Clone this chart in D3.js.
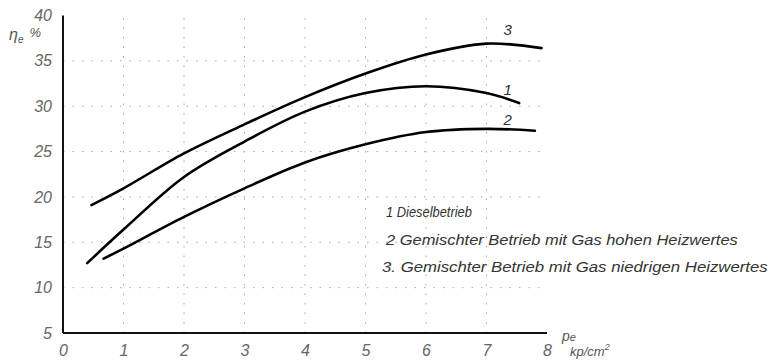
<!DOCTYPE html>
<html><head><meta charset="utf-8">
<script src="https://cdn.jsdelivr.net/npm/d3@7/dist/d3.min.js"></script>
<style>body{margin:0;background:#fff}svg{display:block}</style>
</head><body>
<script>
const xTicks = [0,1,2,3,4,5,6,7,8];
const yTicks = [5,10,15,20,25,30,35,40];
const gridX = [1,2,3,4,5,6,7];
const gridY = [10,15,20,25,30,35];
const pe1 = [0.40,1,2,3,4,5,6,7,7.54];
const eta1 = [12.7,16.4,22.2,26.1,29.4,31.45,32.2,31.45,30.35];
const pe2 = [0.67,1,2,3,4,5,6,7,7.8];
const eta2 = [13.2,14.3,17.8,20.95,23.8,25.8,27.15,27.5,27.3];
const pe3 = [0.47,1,2,3,4,5,6,7,7.91];
const eta3 = [19.1,20.95,24.8,28.0,31.0,33.6,35.7,36.9,36.4];
const curveLabels = ["1","2","3"];
const legendLines = ["1 Dieselbetrieb","2 Gemischter Betrieb mit Gas hohen  Heizwertes","3. Gemischter Betrieb mit Gas niedrigen  Heizwertes"];

const W=771,H=364;
const svg=d3.select("body").append("svg").attr("width",W).attr("height",H);
const x=d3.scaleLinear().domain([0,8]).range([63,547]);
const y=d3.scaleLinear().domain([5,40]).range([333,15.5]);
const font="'Liberation Sans', Arial, sans-serif";

// grid
const g=svg.append("g").attr("stroke","#aaa").attr("stroke-width",1).attr("stroke-dasharray","1.5,8");
g.selectAll("line.h").data(gridY).join("line").attr("x1",x(0)).attr("x2",x(8)).attr("y1",d=>y(d)).attr("y2",d=>y(d));
g.selectAll("line.v").data(gridX).join("line").attr("x1",d=>x(d)).attr("x2",d=>x(d)).attr("y1",y(5)).attr("y2",y(40));

// axes
const xAxis=d3.axisBottom(x).tickValues(xTicks).tickSize(0).tickPadding(12).tickFormat(d3.format("d"));
const yAxis=d3.axisLeft(y).tickValues(yTicks).tickSize(0).tickPadding(11).tickFormat(d3.format("d"));
const gx=svg.append("g").attr("transform",`translate(0,${y(5)})`).call(xAxis);
const gy=svg.append("g").attr("transform",`translate(${x(0)},0)`).call(yAxis);
[gx,gy].forEach(a=>{
  a.select(".domain").attr("stroke","#111").attr("stroke-width",2);
  a.selectAll("text").attr("font-family",font).attr("font-style","italic").attr("font-size",16).attr("fill","#666");
});
gx.select(".domain").attr("d",`M${x(0)},0H${x(8)}`);
gy.select(".domain").attr("d",`M0,${y(5)}V${y(40)}`);
gx.selectAll("text").attr("dy","0.71em");

// axis titles
const t=svg.append("g").attr("font-family",font).attr("font-style","italic").attr("fill","#555");
const eta=t.append("text").attr("x",9).attr("y",40).attr("font-size",16).attr("font-style","italic");
eta.append("tspan").text("η");
eta.append("tspan").attr("font-size",10).attr("dy",3).text("e");
eta.append("tspan").attr("font-size",13).attr("dx",6).attr("dy",-6).text("%");
const pe=t.append("text").attr("x",562).attr("y",341).attr("font-size",14).attr("font-style","italic");
pe.append("tspan").text("p");
pe.append("tspan").attr("font-size",11).text("e");
const un=t.append("text").attr("x",570).attr("y",356).attr("font-size",13).attr("font-style","italic");
un.append("tspan").text("kp/cm");
un.append("tspan").attr("font-size",9).attr("dy",-6).text("2");

// curves
const series=[[pe1,eta1],[pe2,eta2],[pe3,eta3]];
const line=d3.line().x(d=>x(d[0])).y(d=>y(d[1])).curve(d3.curveCatmullRom.alpha(0.5));
svg.append("g").selectAll("path").data(series).join("path")
  .attr("d",s=>line(s[0].map((v,i)=>[v,s[1][i]])))
  .attr("fill","none").attr("stroke","#000").attr("stroke-width",2.6).attr("stroke-linecap","round");

// curve labels
const labelPos=[[7.35,31.2],[7.35,27.9],[7.35,37.85]];
t.selectAll("text.cl").data(curveLabels).join("text").attr("class","cl")
  .attr("x",(d,i)=>x(labelPos[i][0])).attr("y",(d,i)=>y(labelPos[i][1]))
  .attr("font-size",15).attr("font-style","italic").attr("text-anchor","middle").attr("fill","#333").text(d=>d);

// legend (horizontally scaled to match the original widths, italics kept)
const legY=[217,245,272], legX=[386,386,382], legW=[86,352,386];
t.selectAll("text.lg").data(legendLines).join("text").attr("class","lg")
  .attr("x",0).attr("y",0).attr("font-size",14).attr("font-style","italic").attr("fill","#333")
  .text(d=>d)
  .each(function(d,i){
    const w=this.getComputedTextLength();
    d3.select(this).attr("transform",`translate(${legX[i]},${legY[i]}) scale(${legW[i]/w},1)`);
  });
</script>
</body></html>
